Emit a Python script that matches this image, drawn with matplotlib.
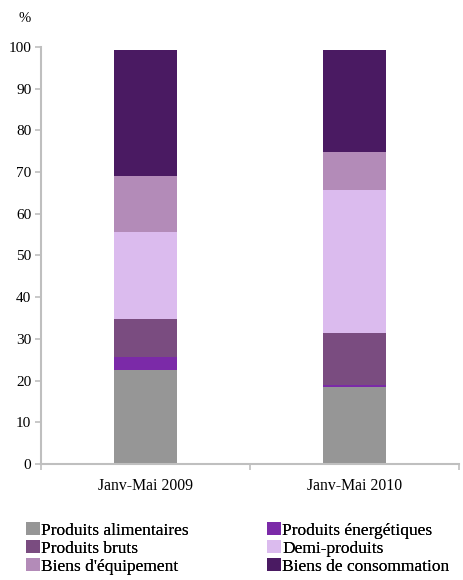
import matplotlib
matplotlib.use("Agg")
import matplotlib.pyplot as plt
from matplotlib.patches import Patch
import numpy as np

plt.rcParams['font.family'] = 'serif'
plt.rcParams['font.serif'] = ['Liberation Serif', 'DejaVu Serif']

periods = ["Janv-Mai 2009", "Janv-Mai 2010"]
series_names = ["Produits alimentaires", "Produits énergétiques", "Produits bruts",
                "Demi-produits", "Biens d'équipement", "Biens de consommation"]
produits_alimentaires = [22.5, 18.4]
produits_energetiques = [3.2, 0.5]
produits_bruts = [9.1, 12.5]
demi_produits = [20.9, 34.3]
biens_equipement = [13.4, 9.1]
biens_consommation = [30.2, 24.5]
y_ticks = [0, 10, 20, 30, 40, 50, 60, 70, 80, 90, 100]

series = [produits_alimentaires, produits_energetiques, produits_bruts,
          demi_produits, biens_equipement, biens_consommation]
colors = ["#969696", "#7B2AA8", "#7A4C80", "#DBBBEE", "#B38BB8", "#4A1A62"]

fig = plt.figure(figsize=(4.64, 5.8), dpi=100)
ax = fig.add_axes([0.0884, 0.2, 0.9006, 0.719])

x = np.arange(len(periods))
bottom = np.zeros(len(periods))
for vals, col in zip(series, colors):
    ax.bar(x, vals, width=0.3, bottom=bottom, color=col, linewidth=0)
    bottom += np.array(vals)

ax.set_xlim(-0.5, 1.5)
ax.set_ylim(0, 100)
ax.set_yticks(y_ticks)
ax.set_yticklabels([str(t) for t in y_ticks], fontsize=11)
ax.set_xticks(x)
ax.set_xticklabels(periods, fontsize=11.3)
ax.tick_params(axis='x', which='major', length=0, pad=10)
ax.set_xticks([-0.5, 0.5, 1.5], minor=True)
ax.tick_params(axis='x', which='minor', length=4, color="#BFBFBF", width=1.2)
ax.tick_params(axis='y', length=4, color="#BFBFBF", width=1.2, pad=3)

for side in ("top", "right"):
    ax.spines[side].set_visible(False)
for side in ("left", "bottom"):
    ax.spines[side].set_color("#BFBFBF")
    ax.spines[side].set_linewidth(1.5)

fig.text(0.052, 0.968, "%", fontsize=10.5, ha="center", va="center")

# two legend columns, each filled top to bottom
handles = [Patch(facecolor=c, edgecolor='none') for c in colors]
leg_kw = dict(loc="upper left", frameon=False, fontsize=12.5,
              handlelength=0.8, handleheight=0.8, handletextpad=0.08,
              labelspacing=0.08, borderaxespad=0, borderpad=0)
for col_idx, x0 in ((0, 26 / 464), (1, 267 / 464)):
    idx = [col_idx, col_idx + 2, col_idx + 4]
    leg = fig.legend([handles[i] for i in idx], [series_names[i] for i in idx],
                     bbox_to_anchor=(x0, 0.1), **leg_kw)
    fig.add_artist(leg)

fig.savefig("out.png", dpi=100)
